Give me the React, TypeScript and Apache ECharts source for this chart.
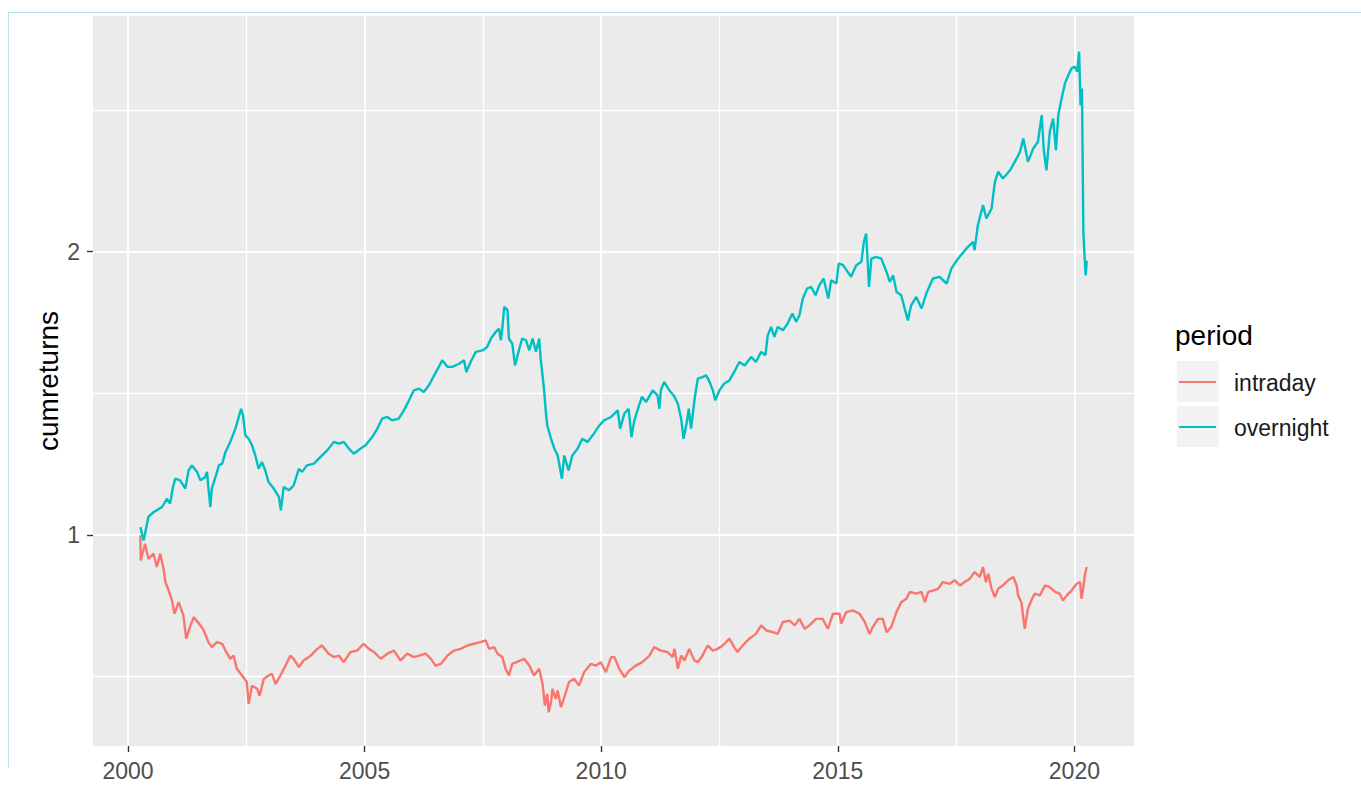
import { useEffect, useRef } from "react";
import * as echarts from "echarts";

// Cumulative overnight returns, by fractional year
const overnightYears = [
  2000.26, 2000.33, 2000.43, 2000.54, 2000.72, 2000.82, 2000.89, 2000.95, 2001.0, 2001.1,
  2001.17, 2001.21, 2001.28, 2001.35, 2001.46, 2001.53, 2001.63, 2001.67, 2001.7, 2001.74,
  2001.77, 2001.85, 2001.92, 2001.99, 2002.06, 2002.16, 2002.27, 2002.34, 2002.39, 2002.43,
  2002.48, 2002.55, 2002.62, 2002.69, 2002.76, 2002.83, 2002.9, 2002.97, 2003.08, 2003.19,
  2003.23, 2003.29, 2003.4, 2003.5, 2003.61, 2003.68, 2003.78, 2003.93, 2004.07, 2004.21,
  2004.35, 2004.46, 2004.56, 2004.67, 2004.77, 2004.91, 2005.02, 2005.16, 2005.27, 2005.37,
  2005.48, 2005.58, 2005.72, 2005.83, 2005.94, 2006.04, 2006.15, 2006.25, 2006.36, 2006.47,
  2006.57, 2006.64, 2006.75, 2006.85, 2007.0, 2007.1, 2007.15, 2007.24, 2007.35, 2007.49,
  2007.59, 2007.67, 2007.77, 2007.84, 2007.88, 2007.91, 2007.95, 2008.02, 2008.05, 2008.12,
  2008.18, 2008.26, 2008.33, 2008.41, 2008.48, 2008.55, 2008.62, 2008.69, 2008.72, 2008.76,
  2008.79, 2008.83, 2008.86, 2008.94, 2009.01, 2009.08, 2009.17, 2009.22, 2009.31, 2009.39,
  2009.5, 2009.6, 2009.71, 2009.82, 2009.96, 2010.06, 2010.21, 2010.35, 2010.4, 2010.49,
  2010.58, 2010.64, 2010.7, 2010.8, 2010.86, 2010.95, 2011.09, 2011.19, 2011.23, 2011.26,
  2011.33, 2011.44, 2011.55, 2011.62, 2011.69, 2011.74, 2011.81, 2011.85, 2011.9, 2011.97,
  2012.04, 2012.14, 2012.22, 2012.29, 2012.36, 2012.41, 2012.5, 2012.6, 2012.71, 2012.81,
  2012.92, 2013.03, 2013.17, 2013.27, 2013.38, 2013.47, 2013.52, 2013.59, 2013.66, 2013.73,
  2013.84, 2013.94, 2014.04, 2014.12, 2014.19, 2014.26, 2014.35, 2014.44, 2014.53, 2014.61,
  2014.7, 2014.8, 2014.86, 2014.97, 2015.02, 2015.11, 2015.28, 2015.39, 2015.5, 2015.55,
  2015.6, 2015.66, 2015.71, 2015.81, 2015.92, 2016.03, 2016.1, 2016.17, 2016.24, 2016.34,
  2016.48, 2016.55, 2016.66, 2016.77, 2016.87, 2017.01, 2017.15, 2017.3, 2017.4, 2017.54,
  2017.72, 2017.86, 2017.89, 2017.96, 2018.07, 2018.14, 2018.25, 2018.32, 2018.39, 2018.49,
  2018.64, 2018.78, 2018.85, 2018.92, 2019.02, 2019.13, 2019.23, 2019.31, 2019.35, 2019.41,
  2019.48, 2019.55, 2019.61, 2019.66, 2019.73, 2019.8, 2019.87, 2019.94, 2020.01, 2020.06,
  2020.1, 2020.13, 2020.16, 2020.19, 2020.21, 2020.24, 2020.26,
];
const overnightValues = [
  1.027, 0.98, 1.063, 1.08, 1.098, 1.127, 1.11, 1.169, 1.198, 1.192,
  1.174, 1.163, 1.227, 1.245, 1.222, 1.192, 1.204, 1.222, 1.163, 1.098,
  1.163, 1.204, 1.245, 1.251, 1.292, 1.328, 1.375, 1.416, 1.445, 1.422,
  1.351, 1.339, 1.316, 1.28, 1.233, 1.257, 1.227, 1.186, 1.163, 1.133,
  1.086, 1.169, 1.157, 1.174, 1.233, 1.222, 1.245, 1.251, 1.275, 1.298,
  1.328, 1.322, 1.328, 1.304, 1.286, 1.304, 1.316, 1.345, 1.375, 1.41,
  1.416, 1.404, 1.41, 1.439, 1.475, 1.51, 1.516, 1.504, 1.528, 1.563,
  1.593, 1.616, 1.593, 1.593, 1.604, 1.616, 1.575, 1.61, 1.646, 1.651,
  1.663, 1.693, 1.716, 1.728, 1.687, 1.728, 1.805, 1.793, 1.693, 1.675,
  1.598, 1.651, 1.693, 1.687, 1.651, 1.693, 1.646, 1.693, 1.622, 1.563,
  1.516, 1.434, 1.386, 1.339, 1.304, 1.28, 1.198, 1.28, 1.227, 1.28,
  1.304, 1.339, 1.328, 1.351, 1.386, 1.404, 1.416, 1.439, 1.375, 1.428,
  1.445, 1.345, 1.404, 1.457, 1.487, 1.469, 1.51, 1.492, 1.445, 1.51,
  1.54, 1.51, 1.487, 1.463, 1.41, 1.339, 1.398, 1.445, 1.375, 1.475,
  1.551, 1.557, 1.563, 1.54, 1.51, 1.475, 1.51, 1.534, 1.545, 1.575,
  1.61, 1.598, 1.628, 1.61, 1.646, 1.634, 1.704, 1.734, 1.699, 1.734,
  1.722, 1.746, 1.781, 1.752, 1.775, 1.834, 1.869, 1.875, 1.846, 1.881,
  1.905, 1.834, 1.899, 1.887, 1.958, 1.952, 1.911, 1.952, 1.964, 2.034,
  2.064, 1.875, 1.975, 1.981, 1.975, 1.928, 1.893, 1.916, 1.858, 1.846,
  1.757, 1.81, 1.84, 1.799, 1.852, 1.905, 1.911, 1.887, 1.94, 1.975,
  2.011, 2.034, 2.005, 2.093, 2.164, 2.117, 2.152, 2.246, 2.282, 2.258,
  2.287, 2.329, 2.352, 2.399, 2.317, 2.364, 2.388, 2.482, 2.364, 2.287,
  2.423, 2.47, 2.358, 2.482, 2.541, 2.594, 2.623, 2.647, 2.653, 2.635,
  2.706, 2.517, 2.576, 2.07, 1.999, 1.916, 1.968,
];

// Cumulative intraday returns, by fractional year
const intradayYears = [
  2000.26, 2000.27, 2000.36, 2000.43, 2000.54, 2000.61, 2000.68, 2000.75, 2000.79, 2000.86,
  2000.93, 2000.98, 2001.07, 2001.17, 2001.23, 2001.32, 2001.39, 2001.53, 2001.6, 2001.7,
  2001.77, 2001.88, 2001.99, 2002.06, 2002.16, 2002.23, 2002.3, 2002.41, 2002.51, 2002.55,
  2002.62, 2002.73, 2002.78, 2002.87, 2002.97, 2003.04, 2003.12, 2003.22, 2003.33, 2003.43,
  2003.5, 2003.61, 2003.71, 2003.86, 2004.0, 2004.1, 2004.24, 2004.35, 2004.46, 2004.56,
  2004.7, 2004.84, 2004.98, 2005.09, 2005.2, 2005.34, 2005.48, 2005.62, 2005.76, 2005.9,
  2006.04, 2006.15, 2006.29, 2006.4, 2006.5, 2006.61, 2006.75, 2006.89, 2007.03, 2007.17,
  2007.31, 2007.45, 2007.56, 2007.63, 2007.74, 2007.81, 2007.91, 2007.98, 2008.05, 2008.12,
  2008.3, 2008.37, 2008.48, 2008.58, 2008.69, 2008.76, 2008.81, 2008.86, 2008.89, 2008.94,
  2008.97, 2009.04, 2009.08, 2009.15, 2009.22, 2009.32, 2009.43, 2009.53, 2009.64, 2009.78,
  2009.89, 2009.99, 2010.1, 2010.21, 2010.28, 2010.38, 2010.49, 2010.59, 2010.73, 2010.87,
  2011.02, 2011.12, 2011.26, 2011.4, 2011.51, 2011.55, 2011.62, 2011.69, 2011.76, 2011.86,
  2011.97, 2012.04, 2012.14, 2012.25, 2012.36, 2012.46, 2012.57, 2012.71, 2012.81, 2012.88,
  2012.99, 2013.13, 2013.27, 2013.38, 2013.49, 2013.63, 2013.73, 2013.84, 2013.98, 2014.09,
  2014.19, 2014.3, 2014.4, 2014.54, 2014.68, 2014.79, 2014.9, 2015.04, 2015.07, 2015.18,
  2015.32, 2015.46, 2015.57, 2015.67, 2015.74, 2015.85, 2015.95, 2016.03, 2016.13, 2016.24,
  2016.34, 2016.45, 2016.52, 2016.66, 2016.77, 2016.84, 2016.91, 2017.01, 2017.12, 2017.22,
  2017.37, 2017.47, 2017.58, 2017.68, 2017.79, 2017.89, 2018.0, 2018.07, 2018.13, 2018.18,
  2018.25, 2018.32, 2018.39, 2018.49, 2018.6, 2018.71, 2018.78, 2018.81, 2018.88, 2018.95,
  2019.02, 2019.09, 2019.16, 2019.27, 2019.38, 2019.48, 2019.59, 2019.69, 2019.76, 2019.84,
  2019.94, 2020.05, 2020.12, 2020.15, 2020.19, 2020.22, 2020.26,
];
const intradayValues = [
  0.998, 0.909, 0.968, 0.915, 0.933, 0.886, 0.933, 0.88, 0.833, 0.803,
  0.768, 0.721, 0.762, 0.715, 0.633, 0.68, 0.709, 0.68, 0.662, 0.621,
  0.603, 0.621, 0.615, 0.591, 0.562, 0.573, 0.527, 0.503, 0.48, 0.403,
  0.467, 0.456, 0.432, 0.491, 0.503, 0.509, 0.473, 0.503, 0.538, 0.573,
  0.562, 0.533, 0.556, 0.573, 0.597, 0.609, 0.58, 0.568, 0.573, 0.55,
  0.586, 0.591, 0.615, 0.597, 0.586, 0.562, 0.58, 0.591, 0.556, 0.58,
  0.568, 0.573, 0.58, 0.562, 0.538, 0.544, 0.573, 0.591, 0.597, 0.609,
  0.615, 0.621, 0.627, 0.597, 0.603, 0.58, 0.568, 0.527, 0.503, 0.544,
  0.556, 0.562, 0.538, 0.503, 0.527, 0.473, 0.397, 0.438, 0.373, 0.409,
  0.456, 0.42, 0.45, 0.391, 0.426, 0.48, 0.491, 0.467, 0.515, 0.544,
  0.538, 0.55, 0.515, 0.568, 0.568, 0.527, 0.497, 0.52, 0.538, 0.55,
  0.573, 0.603, 0.591, 0.586, 0.568, 0.597, 0.527, 0.573, 0.556, 0.597,
  0.556, 0.55, 0.573, 0.609, 0.591, 0.597, 0.609, 0.633, 0.603, 0.586,
  0.609, 0.633, 0.65, 0.68, 0.662, 0.656, 0.65, 0.692, 0.697, 0.68,
  0.703, 0.668, 0.68, 0.703, 0.703, 0.668, 0.721, 0.721, 0.686, 0.727,
  0.733, 0.721, 0.692, 0.65, 0.674, 0.703, 0.703, 0.656, 0.674, 0.727,
  0.762, 0.774, 0.798, 0.792, 0.798, 0.762, 0.798, 0.803, 0.809, 0.833,
  0.827, 0.839, 0.821, 0.833, 0.845, 0.868, 0.851, 0.886, 0.833, 0.862,
  0.809, 0.78, 0.809, 0.821, 0.839, 0.851, 0.821, 0.786, 0.762, 0.668,
  0.739, 0.768, 0.792, 0.786, 0.821, 0.815, 0.798, 0.792, 0.768, 0.786,
  0.803, 0.827, 0.833, 0.774, 0.815, 0.856, 0.886,
];

// Axis breaks
const yearBreaks = [2000, 2005, 2010, 2015, 2020];
const yearMinorBreaks = [2002.5, 2007.5, 2012.5, 2017.5];
const valueBreaks = [1, 2];
const valueMinorBreaks = [0.5, 1.5, 2.5];

const periods = ["intraday", "overnight"];
const periodColors = ["#F8766D", "#00BFC4"];

const toPairs = (xs: number[], ys: number[]) => xs.map((x, i) => [x, ys[i]]);

const FONT = "'Liberation Sans', Arial, sans-serif";

export default function App() {
  const ref = useRef<HTMLDivElement>(null);

  useEffect(() => {
    if (!ref.current) return;
    const chart = echarts.init(ref.current, null, { renderer: "svg" });

    const gridLines = [
      ...yearBreaks.map((v) => ({ xAxis: v, lineStyle: { width: 1.9 } })),
      ...yearMinorBreaks.map((v) => ({ xAxis: v, lineStyle: { width: 1.3 } })),
      ...valueBreaks.map((v) => ({ yAxis: v, lineStyle: { width: 1.9 } })),
      ...valueMinorBreaks.map((v) => ({ yAxis: v, lineStyle: { width: 1.3 } })),
    ];

    const tickStyle = { show: true, length: 6, lineStyle: { color: "#333333", width: 1.4 } };
    const labelStyle = { fontSize: 23, color: "#4D4D4D", fontFamily: FONT };

    const legendTop = 361;
    const legendStep = 45;
    const legendItems = periods.flatMap((name, i) => {
      const y = legendTop + i * legendStep;
      return [
        { type: "rect", shape: { x: 1177, y, width: 42, height: 41 }, style: { fill: "#F2F2F2" } },
        {
          type: "line",
          shape: { x1: 1179, y1: y + 21, x2: 1216, y2: y + 21 },
          style: { stroke: periodColors[i], lineWidth: 2 },
        },
        {
          type: "text",
          x: 1234,
          y: y + 22,
          style: { text: name, fontSize: 23, fontFamily: FONT, fill: "#1A1A1A", align: "left", verticalAlign: "middle" },
        },
      ];
    });

    chart.setOption({
      animation: false,
      grid: {
        left: 93,
        top: 16,
        width: 1041,
        height: 730,
        show: true,
        backgroundColor: "#EBEBEB",
        borderWidth: 0,
        outerBoundsMode: "none",
        containLabel: false,
      },
      xAxis: {
        type: "value",
        min: 1999.26,
        max: 2021.26,
        splitLine: { show: false },
        axisLine: { show: false },
        axisTick: { ...tickStyle, customValues: yearBreaks },
        axisLabel: { ...labelStyle, margin: 13, customValues: yearBreaks, formatter: (v: number) => String(v) },
      },
      yAxis: {
        type: "value",
        min: 0.254,
        max: 2.832,
        splitLine: { show: false },
        axisLine: { show: false },
        axisTick: { ...tickStyle, customValues: valueBreaks },
        axisLabel: { ...labelStyle, margin: 13, customValues: valueBreaks, formatter: (v: number) => String(v) },
      },
      series: [
        {
          type: "line",
          name: "panel-grid",
          data: [],
          silent: true,
          z: 1,
          markLine: {
            silent: true,
            z: 1,
            symbol: "none",
            label: { show: false },
            emphasis: { disabled: true },
            lineStyle: { color: "#FFFFFF", type: "solid" },
            data: gridLines,
          },
        },
        ...periods.map((name, i) => ({
          type: "line",
          name,
          data: toPairs(i === 0 ? intradayYears : overnightYears, i === 0 ? intradayValues : overnightValues),
          showSymbol: false,
          symbol: "none",
          z: 10 + i,
          lineStyle: { color: periodColors[i], width: 2.4 },
          itemStyle: { color: periodColors[i] },
        })),
      ],
      graphic: [
        { type: "line", shape: { x1: 8, y1: 12.5, x2: 1361, y2: 12.5 }, style: { stroke: "#B7E4EA", lineWidth: 1 } },
        { type: "line", shape: { x1: 8.5, y1: 12, x2: 8.5, y2: 768 }, style: { stroke: "#B7E4EA", lineWidth: 1 } },
        {
          type: "text",
          x: 48,
          y: 381,
          rotation: Math.PI / 2,
          style: { text: "cumreturns", fontSize: 28, fontFamily: FONT, fill: "#000000", align: "center", verticalAlign: "middle" },
        },
        {
          type: "text",
          x: 1175,
          y: 335,
          style: { text: "period", fontSize: 28, fontFamily: FONT, fill: "#000000", align: "left", verticalAlign: "middle" },
        },
        ...legendItems,
      ],
    });

    return () => chart.dispose();
  }, []);

  return (
    <div
      ref={ref}
      style={{ position: "fixed", left: 0, top: 0, width: 1361, height: 788, background: "#FFFFFF" }}
    />
  );
}
